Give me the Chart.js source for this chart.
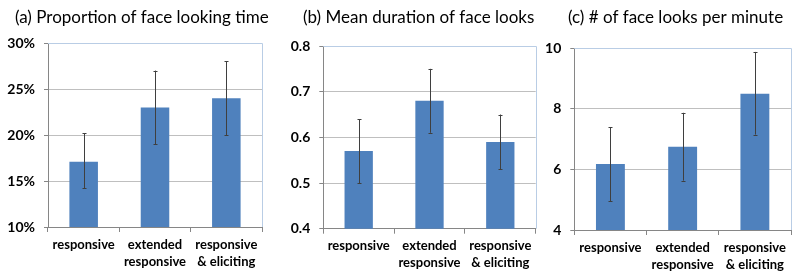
<!DOCTYPE html>
<html>
<head>
<meta charset="utf-8">
<script src="https://cdn.jsdelivr.net/npm/chart.js@4.4.0/dist/chart.umd.min.js"></script>
<style>
  html, body { margin: 0; padding: 0; background: #fff; overflow: hidden; }
  body { width: 800px; height: 277px; position: relative; }
  .panel { position: absolute; top: 0; height: 277px; }
</style>
</head>
<body>
<div class="panel" style="left:0px;width:274px"><canvas id="chartA"></canvas></div>
<div class="panel" style="left:285px;width:265px"><canvas id="chartB"></canvas></div>
<div class="panel" style="left:540px;width:260px"><canvas id="chartC"></canvas></div>
<script>
// categories shared by all three panels
const categories = [['responsive'], ['extended', 'responsive'], ['responsive', '& eliciting']];

// (a) proportion of face looking time (%)
const propValues = [17.1, 23.0, 24.0];
const propLow = [14.2, 19.0, 20.0];
const propHigh = [20.2, 27.0, 28.0];

// (b) mean duration of face looks
const durValues = [0.57, 0.68, 0.59];
const durLow = [0.50, 0.61, 0.53];
const durHigh = [0.64, 0.75, 0.65];

// (c) number of face looks per minute
const rateValues = [6.18, 6.75, 8.5];
const rateLow = [4.95, 5.63, 7.15];
const rateHigh = [7.4, 7.87, 9.88];

const barColor = '#4f81bd';
const gridColor = '#bfbfbf';
const axisColor = '#868686';
const frameColor = '#b9cde5';
const fontFamily = 'Lato, "Open Sans", sans-serif';

// moves the title sideways so it starts where the original one does
const titleShiftPlugin = {
  id: 'titleShift',
  afterLayout(chart, args, opts) {
    const t = chart.titleBlock;
    if (t) {
      t.left += opts.dx;
      t.right += opts.dx;
    }
  }
};

// draws error bars and the light blue top/right frame
const errorBarPlugin = {
  id: 'errorBars',
  afterDatasetsDraw(chart, args, opts) {
    const ctx = chart.ctx;
    const yScale = chart.scales.y;
    const meta = chart.getDatasetMeta(0);
    ctx.save();
    ctx.strokeStyle = '#3f3f3f';
    ctx.lineWidth = 1;
    meta.data.forEach((bar, i) => {
      const x = Math.round(bar.x) + 0.5;
      const yLo = yScale.getPixelForValue(opts.low[i]);
      const yHi = yScale.getPixelForValue(opts.high[i]);
      ctx.beginPath();
      ctx.moveTo(x, yLo);
      ctx.lineTo(x, yHi);
      ctx.moveTo(x - 2, Math.round(yLo) + 0.5);
      ctx.lineTo(x + 2, Math.round(yLo) + 0.5);
      ctx.moveTo(x - 2, Math.round(yHi) + 0.5);
      ctx.lineTo(x + 2, Math.round(yHi) + 0.5);
      ctx.stroke();
    });
    const area = chart.chartArea;
    ctx.strokeStyle = frameColor;
    ctx.beginPath();
    ctx.moveTo(area.left, Math.round(area.top) + 0.5);
    ctx.lineTo(Math.round(area.right) + 0.5, Math.round(area.top) + 0.5);
    ctx.lineTo(Math.round(area.right) + 0.5, area.bottom);
    ctx.stroke();
    ctx.restore();
  }
};

function makeChart(id, title, values, low, high, yMin, yMax, yStep, yFmt, titleDx, axisWidth, padRight, titleBottom, xHeight) {
  const ctx = document.getElementById(id).getContext('2d');
  return new Chart(ctx, {
    type: 'bar',
    data: {
      labels: categories,
      datasets: [{
        data: values,
        backgroundColor: barColor,
        borderWidth: 0,
        categoryPercentage: 1.0,
        barPercentage: 0.4
      }]
    },
    options: {
      responsive: true,
      maintainAspectRatio: false,
      animation: false,
      layout: { padding: { left: 0, right: padRight, top: 0, bottom: 0 } },
      plugins: {
        legend: { display: false },
        tooltip: { enabled: false },
        title: {
          display: true,
          align: 'start',
          text: title,
          color: '#000',
          font: { family: fontFamily, size: 17, weight: 'normal', lineHeight: 1.2 },
          padding: { top: 7.8, bottom: titleBottom }
        },
        titleShift: { dx: titleDx },
        errorBars: { low: low, high: high }
      },
      scales: {
        x: {
          afterFit: s => { s.height = xHeight; },
          grid: { display: true, drawOnChartArea: false, offset: true, color: axisColor, tickLength: 5 },
          border: { display: true, color: axisColor },
          ticks: {
            color: '#000',
            padding: 4,
            maxRotation: 0,
            autoSkip: false,
            font: { family: fontFamily, size: 13, weight: 'bold', lineHeight: 1.3 }
          }
        },
        y: {
          min: yMin,
          max: yMax,
          afterFit: s => { s.width = axisWidth; },
          grid: { color: gridColor, tickLength: 4, tickColor: axisColor },
          border: { display: true, color: axisColor },
          ticks: {
            stepSize: yStep,
            color: '#000',
            padding: 9,
            font: { family: fontFamily, size: 14, weight: 'bold' },
            callback: yFmt
          }
        }
      }
    },
    plugins: [titleShiftPlugin, errorBarPlugin]
  });
}

makeChart('chartA', '(a) Proportion of face looking time', propValues, propLow, propHigh,
  10, 30, 5, v => v + '%', 15, 48, 12, 14.8, 50);
makeChart('chartB', '(b) Mean duration of face looks', durValues, durLow, durHigh,
  0.4, 0.8, 0.1, v => v.toFixed(1), 18, 38.3, 14.3, 17.8, 48.3);
makeChart('chartC', '(c) # of face looks per minute', rateValues, rateLow, rateHigh,
  4, 10, 2, v => String(v), 28, 34.3, 9, 20.1, 47);
</script>
</body>
</html>
